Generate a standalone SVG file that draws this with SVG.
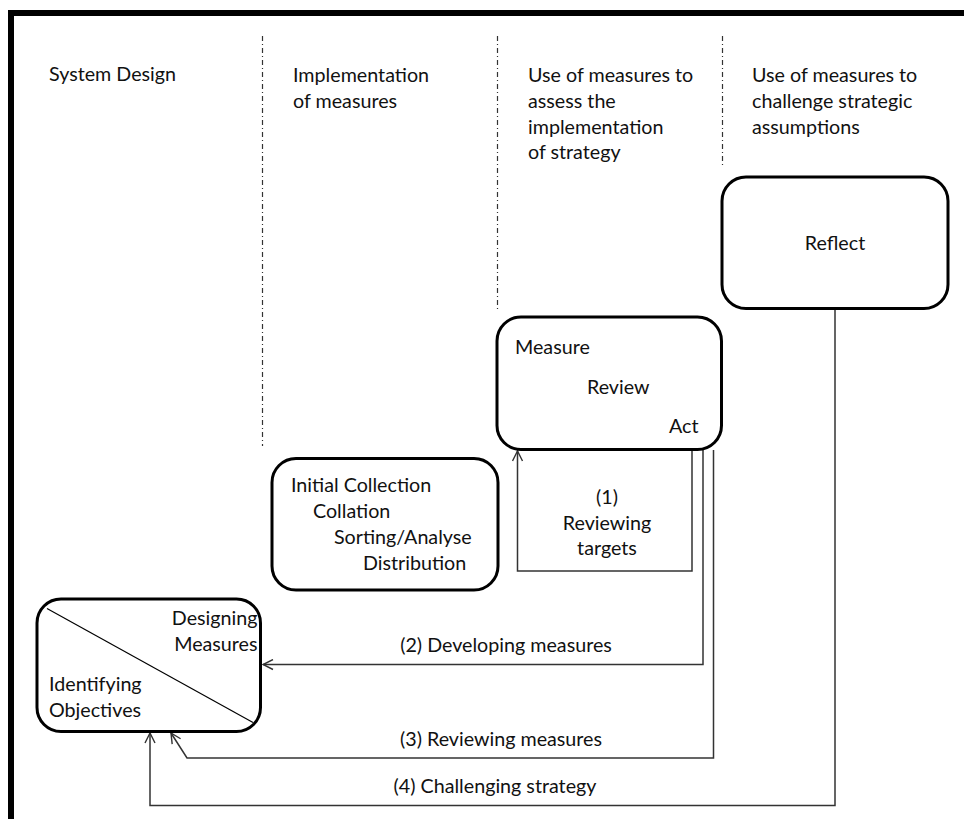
<svg xmlns="http://www.w3.org/2000/svg" width="964" height="819" viewBox="0 0 964 819">
  <style>
    text { font-family: Lato, "Liberation Sans", Arial, sans-serif; font-size: 19.7px; fill: #111; }
    .box { fill: #fff; stroke: #000; stroke-width: 3; }
    .lane { stroke: #333; stroke-width: 1.2; stroke-dasharray: 5 3 1 3; fill: none; }
    .conn { stroke: #333; stroke-width: 1.5; fill: none; }
    .mid { text-anchor: middle; }
    .end { text-anchor: end; }
  </style>
  <defs>
    <marker id="open-arrow" viewBox="0 0 12 12" refX="11" refY="6" markerWidth="12" markerHeight="12" markerUnits="userSpaceOnUse" orient="auto">
      <path d="M1,1 L11,6 L1,11" fill="none" stroke="#333" stroke-width="1.4"/>
    </marker>
  </defs>

  <rect width="964" height="819" fill="#fff"/>

  <!-- outer frame: top and left edges only -->
  <path d="M11,819 V13 H964" fill="none" stroke="#000" stroke-width="6"/>

  <!-- lane separators -->
  <g id="lanes">
    <line class="lane" x1="262.5" y1="36" x2="262.5" y2="446"/>
    <line class="lane" x1="497.5" y1="36" x2="497.5" y2="310"/>
    <line class="lane" x1="722.5" y1="36" x2="722.5" y2="168"/>
  </g>

  <!-- lane headings -->
  <g id="headings">
    <text x="49" y="81">System Design</text>
    <text x="293" y="81.5">Implementation</text>
    <text x="293" y="107.5">of measures</text>
    <text x="528" y="81.5">Use of measures to</text>
    <text x="528" y="107.5">assess the</text>
    <text x="528" y="133.5">implementation</text>
    <text x="528" y="159">of strategy</text>
    <text x="752" y="81.5">Use of measures to</text>
    <text x="752" y="107.5">challenge strategic</text>
    <text x="752" y="133.5">assumptions</text>
  </g>

  <!-- connectors -->
  <g id="connectors">
    <!-- (1) reviewing targets loop -->
    <path class="conn" d="M692,450 V571 H517.5 V451" marker-end="url(#open-arrow)"/>
    <!-- (2) developing measures -->
    <path class="conn" d="M703,450 V664.5 H263" marker-end="url(#open-arrow)"/>
    <!-- (3) reviewing measures -->
    <path class="conn" d="M713.5,450 V758 H187 L171,733" marker-end="url(#open-arrow)"/>
    <!-- (4) challenging strategy -->
    <path class="conn" d="M835,309 V805.5 H150 V733" marker-end="url(#open-arrow)"/>
    <text class="mid" x="607" y="504">(1)</text>
    <text class="mid" x="607" y="530">Reviewing</text>
    <text class="mid" x="607" y="555">targets</text>
    <text class="mid" x="506" y="652">(2) Developing measures</text>
    <text class="mid" x="501" y="746">(3) Reviewing measures</text>
    <text class="mid" x="495" y="793">(4) Challenging strategy</text>
  </g>

  <!-- nodes -->
  <g id="reflect">
    <rect class="box" x="722" y="177" width="226" height="131.5" rx="24"/>
    <text class="mid" x="835" y="250">Reflect</text>
  </g>

  <g id="measure-review-act">
    <rect class="box" x="497" y="317" width="224.5" height="132.5" rx="24"/>
    <text x="515" y="354">Measure</text>
    <text x="587" y="394">Review</text>
    <text x="669" y="432.5">Act</text>
  </g>

  <g id="implementation">
    <rect class="box" x="272" y="458.5" width="226" height="131.5" rx="24"/>
    <text x="291" y="491.5">Initial Collection</text>
    <text x="313" y="518">Collation</text>
    <text x="334" y="544">Sorting/Analyse</text>
    <text x="363" y="570">Distribution</text>
  </g>

  <g id="system-design">
    <rect class="box" x="37" y="599" width="223.5" height="132.5" rx="24"/>
    <line x1="47" y1="608.5" x2="253" y2="722.5" stroke="#000" stroke-width="1.2"/>
    <text class="end" x="257.5" y="625">Designing</text>
    <text class="end" x="257.5" y="650.5">Measures</text>
    <text x="49" y="691">Identifying</text>
    <text x="49" y="716.5">Objectives</text>
  </g>
</svg>
